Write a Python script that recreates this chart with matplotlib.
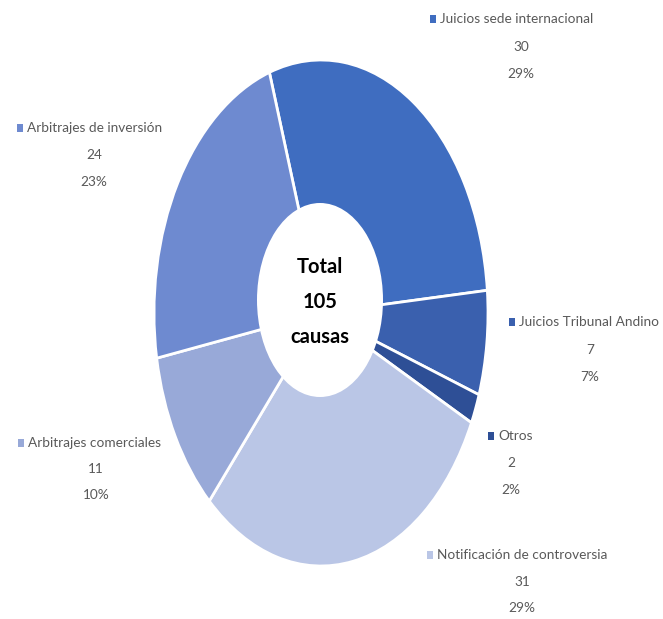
import matplotlib
matplotlib.use("Agg")
import matplotlib.pyplot as plt
from matplotlib.patches import Ellipse, Rectangle

# data
categorias = ["Juicios sede internacional", "Juicios Tribunal Andino", "Otros",
              "Notificación de controversia", "Arbitrajes comerciales", "Arbitrajes de inversión"]
valores = [30, 7, 2, 31, 11, 24]
porcentajes = ["29%", "7%", "2%", "29%", "10%", "23%"]
colores = ["#3F6DC0", "#3A60AE", "#2E4F96", "#BAC6E6", "#98A9D8", "#6E8AD0"]

# label placement in pixels: (left x of name, center x of numbers, y of name, y of value, y of percent)
pos_etiquetas = [(440, 521, 19, 47, 74),
                 (519, 590, 322, 350, 377),
                 (498, 511, 436, 463, 490),
                 (437, 522, 555, 582, 608),
                 (28, 96, 443, 469, 495),
                 (27, 94, 128, 155, 182)]

W, H = 663, 619
fig = plt.figure(figsize=(W / 100, H / 100), dpi=100)
ax = fig.add_axes([0, 0, 1, 1])

wedges, _ = ax.pie(valores, colors=colores, startangle=108, counterclock=False,
                   radius=1, wedgeprops=dict(edgecolor="white", linewidth=2))

# pie is stretched into an ellipse like the reference
cx, cy, rx, ry = 321, 313, 167, 253
ax.set_aspect("auto")
ax.set_xlim(-cx / rx, (W - cx) / rx)
ax.set_ylim(-(H - cy) / ry, cy / ry)
ax.axis("off")

# white hole, sits a bit above the pie center in the reference
hx, hy = 320, 300
ax.add_patch(Ellipse(((hx - cx) / rx, (cy - hy) / ry), 2 * 63 / rx, 2 * 97 / ry,
                     facecolor="white", edgecolor="none", zorder=5))

fuente = ["Lato", "DejaVu Sans"]
gris = "#595959"
fs = 9.8
for cat, v, p, col, (xl, xc, y1, y2, y3) in zip(categorias, valores, porcentajes, colores, pos_etiquetas):
    fig.text(xl / W, 1 - y1 / H, cat, ha="left", va="center", fontsize=fs,
             color=gris, family=fuente)
    fig.text(xc / W, 1 - y2 / H, str(v), ha="center", va="center", fontsize=fs,
             color=gris, family=fuente)
    fig.text(xc / W, 1 - y3 / H, p, ha="center", va="center", fontsize=fs,
             color=gris, family=fuente)
    # little colored square before the name
    fig.patches.append(Rectangle(((xl - 10) / W, 1 - (y1 + 4) / H), 6 / W, 8 / H,
                                 transform=fig.transFigure, facecolor=col, edgecolor="none"))

for linea, y in zip(["Total", "105", "causas"], [267, 302, 337]):
    fig.text(hx / W, 1 - y / H, linea, ha="center", va="center", fontsize=14.5,
             fontweight="bold", color="black", family=fuente)

fig.savefig("out.png", dpi=100)
